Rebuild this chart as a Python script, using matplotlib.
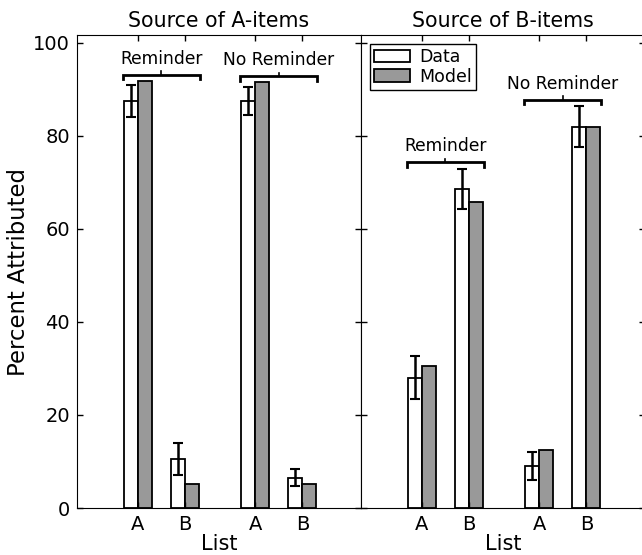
import matplotlib
matplotlib.use('Agg')
import matplotlib.pyplot as plt
import numpy as np

# Data (percent attributed)
lists = ['A', 'B', 'A', 'B']
groups = ['Reminder', 'No Reminder']
panel_titles = ['Source of A-items', 'Source of B-items']

# Source of A-items: Reminder (A, B), No Reminder (A, B)
data_a = [87.5, 10.5, 87.5, 6.5]
err_a = [3.5, 3.4, 3.0, 1.8]
model_a = [91.8, 5.1, 91.5, 5.1]

# Source of B-items
data_b = [28.0, 68.6, 9.0, 82.0]
err_b = [4.6, 4.3, 3.0, 4.4]
model_b = [30.5, 65.7, 12.5, 82.0]

# Layout
xpos = np.array([1, 2, 3.5, 4.5])
width = 0.3
gray = '0.6'

fig = plt.figure(figsize=(6.42, 5.55), dpi=100)
ax1 = fig.add_axes([77 / 642, 47 / 555, 284 / 642, 473 / 555])
ax2 = fig.add_axes([361 / 642, 47 / 555, 284 / 642, 473 / 555])


def draw_panel(ax, data, err, model, title):
    ax.bar(xpos - width / 2, data, width, color='white', edgecolor='black',
           linewidth=1.3, label='Data')
    ax.bar(xpos + width / 2, model, width, color=gray, edgecolor='black',
           linewidth=1.3, label='Model')
    ax.errorbar(xpos - width / 2, data, yerr=err, fmt='none', ecolor='black',
                elinewidth=1.8, capsize=3.5, capthick=1.5)

    # brackets over each pair of lists
    tops = np.maximum(np.array(data) + np.array(err), np.array(model))
    for g, name in enumerate(groups):
        x0, x1 = xpos[2 * g], xpos[2 * g + 1]
        c = (x0 + x1) / 2
        h = tops[2 * g:2 * g + 2].max() + 1.4
        half = 0.82
        ax.plot([c - half, c - half, c + half, c + half],
                [h - 1.0, h, h, h - 1.0], color='black', lw=2,
                solid_joinstyle='miter', clip_on=False)
        ax.plot([c, c], [h, h + 0.7], color='black', lw=1.2, clip_on=False)
        ax.text(c, h + 1.5, name, ha='center', va='bottom', fontsize=12.3)

    ax.set_xlim(-0.3, 5.75)
    ax.set_ylim(0, 101.7)
    ax.set_xticks(xpos)
    ax.set_xticklabels(lists, fontsize=14)
    ax.set_yticks([0, 20, 40, 60, 80, 100])
    ax.tick_params(direction='in', top=True, right=True, length=4, width=1,
                   labelsize=14, pad=5)
    ax.set_xlabel('List', fontsize=15, labelpad=0)
    ax.set_title(title, fontsize=14.8, pad=6)


draw_panel(ax1, data_a, err_a, model_a, panel_titles[0])
draw_panel(ax2, data_b, err_b, model_b, panel_titles[1])

ax1.set_ylabel('Percent Attributed', fontsize=16.4, labelpad=2)
ax2.set_yticklabels([])

ax2.legend(loc='upper left', fontsize=12.5, handlelength=2.1, handleheight=0.75,
           labelspacing=0.1, borderpad=0.25, handletextpad=0.5,
           fancybox=False, edgecolor='black', framealpha=1,
           borderaxespad=0.5)

plt.savefig('out.png', dpi=100)
